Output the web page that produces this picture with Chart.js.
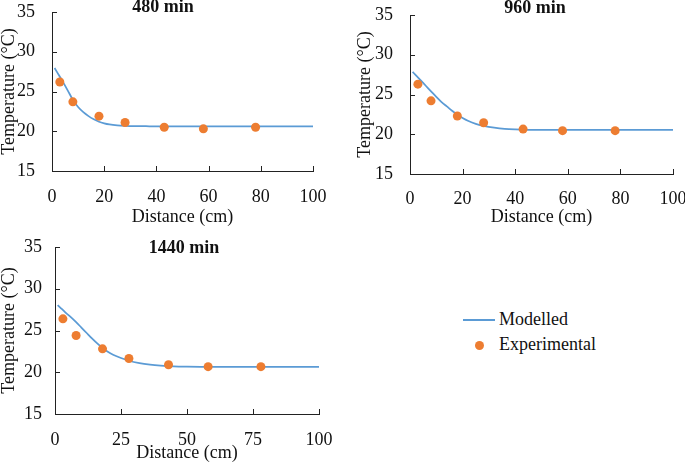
<!DOCTYPE html>
<html>
<head>
<meta charset="utf-8">
<script src="https://cdn.jsdelivr.net/npm/chart.js@4.4.1/dist/chart.umd.min.js"></script>
<style>
  body { margin: 0; background: #fff; width: 685px; height: 463px; position: relative; overflow: hidden;
         font-family: 'Liberation Serif', 'Times New Roman', serif; color: #111; }
  canvas { position: absolute; }
  .leg-line { position: absolute; left: 463px; top: 319px; width: 32px; height: 2px; background: #5B9BD5; }
  .leg-dot { position: absolute; left: 475px; top: 341px; width: 9px; height: 9px; border-radius: 50%; background: #ED7D31; }
  .leg-text { position: absolute; left: 499px; font-size: 18px; line-height: 20px; white-space: nowrap; }
</style>
</head>
<body>
<canvas id="c480" width="330" height="230" style="left:0;top:0"></canvas>
<canvas id="c960" width="345" height="230" style="left:340px;top:0"></canvas>
<canvas id="c1440" width="340" height="233" style="left:0;top:230px"></canvas>
<div class="leg-line"></div><div class="leg-text" id="legModel" style="top:309px"></div>
<div class="leg-dot"></div><div class="leg-text" id="legExp" style="top:334px"></div>

<script>
// ---------- data ----------
const seriesNames = ["Modelled", "Experimental"];
const panelTitles = ["480 min", "960 min", "1440 min"];

// modelled curve
const modelDist = [1, 2, 4, 6, 8, 10, 12, 14, 16, 18, 20, 22, 25, 28, 32, 36, 40, 45, 50, 60, 80, 100];
const model480  = [27.95, 27.4, 26.3, 25.15, 23.95, 23.05, 22.4, 21.9, 21.5, 21.2, 21.0, 20.86, 20.74, 20.68, 20.64, 20.63, 20.62, 20.62, 20.62, 20.62, 20.62, 20.62];
const model960  = [27.85, 27.5, 26.8, 26.1, 25.4, 24.7, 24.05, 23.5, 22.95, 22.45, 22.05, 21.7, 21.3, 21.05, 20.82, 20.67, 20.6, 20.56, 20.55, 20.55, 20.55, 20.55];
const model1440 = [28.05, 27.75, 27.15, 26.6, 26.0, 25.35, 24.7, 24.05, 23.45, 22.9, 22.45, 22.1, 21.7, 21.38, 21.1, 20.92, 20.8, 20.7, 20.66, 20.63, 20.63, 20.63];

// experimental points
const expDist = [3, 8, 18, 28, 43, 58, 78];
const exp480  = [26.2, 23.7, 21.9, 21.1, 20.5, 20.3, 20.5];
const exp960  = [26.3, 24.2, 22.3, 21.45, 20.65, 20.45, 20.45];
const exp1440 = [26.4, 24.4, 22.8, 21.65, 20.9, 20.67, 20.67];

const yTicks = [15, 20, 25, 30, 35];
const xTicksA = [0, 20, 40, 60, 80, 100];
const xTicksB = [0, 25, 50, 75, 100];

// ---------- styling ----------
const FONT = "'Liberation Serif', 'Times New Roman', serif";
const TEXT = "#111";
const AXIS = "#222";
const BLUE = "#5B9BD5";
const ORANGE = "#ED7D31";

Chart.defaults.font.family = FONT;
Chart.defaults.font.size = 18;
Chart.defaults.color = TEXT;

// inside tick marks + panel title
const panelDecor = {
  id: "panelDecor",
  afterDraw(chart, args, opts) {
    const { ctx } = chart;
    const xs = chart.scales.x, ys = chart.scales.y;
    ctx.save();
    ctx.strokeStyle = AXIS;
    ctx.lineWidth = 1;
    xs.ticks.forEach(t => {
      const px = Math.round(xs.getPixelForValue(t.value)) + 0.5;
      ctx.beginPath(); ctx.moveTo(px, ys.bottom); ctx.lineTo(px, ys.bottom - 5); ctx.stroke();
    });
    ys.ticks.forEach(t => {
      const py = Math.round(ys.getPixelForValue(t.value)) + 0.5;
      ctx.beginPath(); ctx.moveTo(xs.left, py); ctx.lineTo(xs.left + 5, py); ctx.stroke();
    });
    ctx.fillStyle = TEXT;
    ctx.font = "bold 18px " + FONT;
    ctx.textAlign = "center";
    ctx.textBaseline = "middle";
    ctx.fillText(opts.text, opts.x, opts.y);
    ctx.restore();
  }
};

function pts(xs, ys) { return xs.map((x, i) => ({ x, y: ys[i] })); }

function makePanel(id, title, model, exp, xTicks, box) {
  new Chart(document.getElementById(id), {
    type: "scatter",
    data: {
      datasets: [
        { label: seriesNames[0], data: pts(modelDist, model), showLine: true, pointRadius: 0,
          borderColor: BLUE, borderWidth: 1.75, cubicInterpolationMode: "monotone", order: 1 },
        { label: seriesNames[1], data: pts(expDist, exp), pointRadius: 4.5, pointHoverRadius: 4.5,
          backgroundColor: ORANGE, borderWidth: 0, order: 0 }
      ]
    },
    options: {
      responsive: false,
      animation: false,
      events: [],
      layout: { autoPadding: false, padding: { top: box.top, right: box.right, left: 0, bottom: 0 } },
      plugins: {
        legend: { display: false },
        tooltip: { enabled: false },
        panelDecor: { text: title, x: box.tx, y: box.ty }
      },
      scales: {
        x: {
          type: "linear", min: 0, max: 100,
          afterBuildTicks: s => { s.ticks = xTicks.map(v => ({ value: v })); },
          afterFit: s => { s.height = box.xh; s.paddingLeft = 0; s.paddingRight = 0; },
          grid: { display: true, drawOnChartArea: false, drawTicks: false },
          border: { display: true, color: AXIS, width: 1 },
          ticks: { padding: box.xpad, maxRotation: 0, autoSkip: false, font: { size: 18, lineHeight: 1.2 } },
          title: { display: true, text: "Distance (cm)", font: { size: 18, lineHeight: 1 }, padding: { top: 0, bottom: box.xtp } }
        },
        y: {
          min: 15, max: 35,
          afterBuildTicks: s => { s.ticks = yTicks.map(v => ({ value: v })); },
          afterFit: s => { s.width = box.left; s.paddingTop = 0; s.paddingBottom = 0; },
          grid: { display: true, drawOnChartArea: false, drawTicks: false },
          border: { display: true, color: AXIS, width: 1 },
          ticks: { padding: box.ypad, font: { size: 18 } },
          title: { display: true, text: "Temperature (°C)", font: { size: 18, lineHeight: 1 }, padding: { top: box.ytp, bottom: 0 } }
        }
      }
    },
    plugins: [panelDecor]
  });
}

makePanel("c480", panelTitles[0], model480, exp480, xTicksA,
  { left: 52, top: 12, right: 17, xh: 59, xpad: 15, xtp: 4, ypad: 17, ytp: 0, tx: 163, ty: 7 });
makePanel("c960", panelTitles[1], model960, exp960, xTicksA,
  { left: 70, top: 15, right: 12, xh: 56, xpad: 14, xtp: 4, ypad: 17, ytp: 16, tx: 195, ty: 8 });
makePanel("c1440", panelTitles[2], model1440, exp1440, xTicksB,
  { left: 55, top: 17, right: 21, xh: 49, xpad: 15, xtp: 1, ypad: 13, ytp: 0, tx: 184, ty: 18 });

document.getElementById("legModel").textContent = seriesNames[0];
document.getElementById("legExp").textContent = seriesNames[1];
</script>
</body>
</html>
